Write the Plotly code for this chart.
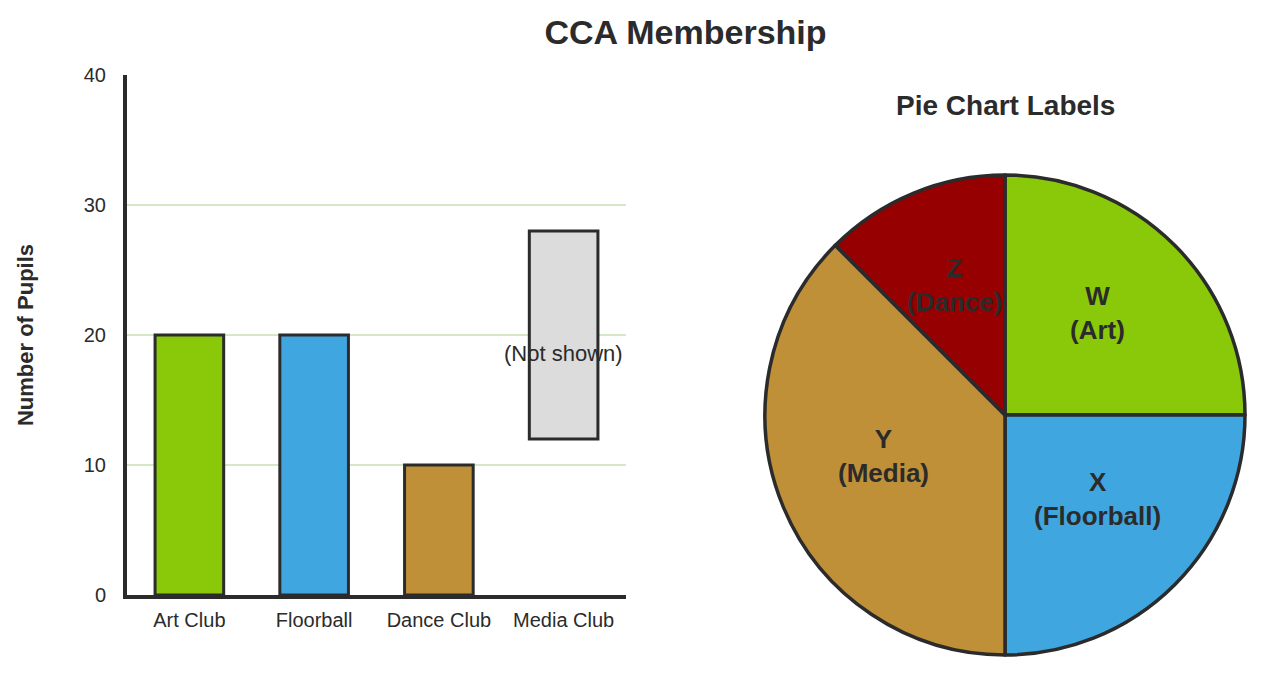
import numpy as np
import plotly.graph_objects as go

# bar chart data
clubs = ["Art Club", "Floorball", "Dance Club", "Media Club"]
club_pupils = [20, 20, 10, None]
club_colors = ["#8ac80a", "#3fa6df", "#bf9038", "#dcdcdc"]
hidden_low = 12
hidden_high = 28
hidden_note = "(Not shown)"

# pie chart data
pie_letters = ["W", "X", "Y", "Z"]
pie_names = ["Art", "Floorball", "Media", "Dance"]
pie_values = [20, 20, 30, 10]
pie_colors = ["#8ac80a", "#3fa6df", "#bf9038", "#960000"]

y_ticks = [0, 10, 20, 30, 40]

INK = "#2b2b2b"
FONT = "Liberation Sans, Arial, sans-serif"
# the page body keeps an 8px margin, so the figure is a bit smaller than the window
PAD = 8
W, H = 1267 - 2 * PAD, 676 - 2 * PAD


def px_x(v):
    return (v - PAD) / W


def px_y(v):
    return 1 - (v - PAD) / H


bar_dom_x = [px_x(127), px_x(626)]
bar_dom_y = [px_y(595), px_y(75)]
pie_dom_x = [px_x(765), px_x(1245)]
pie_dom_y = [px_y(655), px_y(175)]

fig = go.Figure()

fig.add_trace(go.Bar(
    x=clubs[:3], y=club_pupils[:3],
    marker=dict(color=club_colors[:3], line=dict(color=INK, width=3)),
    width=0.55, hoverinfo="skip",
))
fig.add_trace(go.Bar(
    x=[clubs[3]], y=[hidden_high - hidden_low], base=[hidden_low],
    marker=dict(color=club_colors[3], line=dict(color=INK, width=3)),
    width=0.55, hoverinfo="skip",
))
fig.add_annotation(
    x=clubs[3], y=(hidden_low + hidden_high) / 2 - 1.4, text=hidden_note,
    showarrow=False, font=dict(size=22, color=INK, family=FONT),
)

fig.add_trace(go.Pie(
    values=pie_values, labels=pie_letters, sort=False, direction="clockwise",
    rotation=0, marker=dict(colors=pie_colors, line=dict(color=INK, width=3.5)),
    textinfo="none", hoverinfo="skip", showlegend=False,
    domain=dict(x=pie_dom_x, y=pie_dom_y),
))

# labels placed along each slice's mid angle, on hidden axes covering the pie
vals = np.array(pie_values, dtype=float)
mid = (np.cumsum(vals) - vals / 2) / vals.sum() * 2 * np.pi
for letter, name, ang in zip(pie_letters, pie_names, mid):
    fig.add_annotation(
        x=0.546 * np.sin(ang), y=0.546 * np.cos(ang), xref="x2", yref="y2",
        text=f"<b>{letter}</b><br><b>({name})</b>", showarrow=False,
        xanchor="center", yanchor="middle", yshift=9,
        font=dict(size=26, color=INK, family=FONT),
    )

fig.update_layout(
    width=W, height=H, margin=dict(l=0, r=0, t=0, b=0),
    paper_bgcolor="white", plot_bgcolor="white",
    showlegend=False, bargap=0.45,
    font=dict(family=FONT, color=INK),
    xaxis=dict(
        domain=bar_dom_x, showline=True, linecolor=INK, linewidth=4,
        showgrid=False, ticks="", ticklabelstandoff=4, automargin=False,
        tickfont=dict(size=20, color=INK), fixedrange=True,
    ),
    yaxis=dict(
        domain=bar_dom_y, range=[0, 40], tickvals=y_ticks,
        showline=True, linecolor=INK, linewidth=4, automargin=False,
        gridcolor="#d5e8c6", gridwidth=2, zeroline=False,
        ticks="", ticklabelstandoff=13, tickfont=dict(size=20, color=INK),
        title=dict(text="<b>Number of Pupils</b>", standoff=45,
                   font=dict(size=22, color=INK)),
        fixedrange=True,
    ),
    xaxis2=dict(domain=pie_dom_x, range=[-1, 1], visible=False, anchor="y2"),
    yaxis2=dict(domain=pie_dom_y, range=[-1, 1], visible=False, anchor="x2"),
    title=dict(text="<b>CCA Membership</b>", x=px_x(685.5), xanchor="center",
               y=px_y(32), yanchor="middle",
               font=dict(size=34, color=INK, family=FONT)),
)

fig.add_annotation(
    text="<b>Pie Chart Labels</b>", x=(pie_dom_x[0] + pie_dom_x[1]) / 2,
    y=px_y(105), xref="paper", yref="paper", showarrow=False,
    xanchor="center", yanchor="middle",
    font=dict(size=28, color=INK, family=FONT),
)

fig.write_html("out.html")
